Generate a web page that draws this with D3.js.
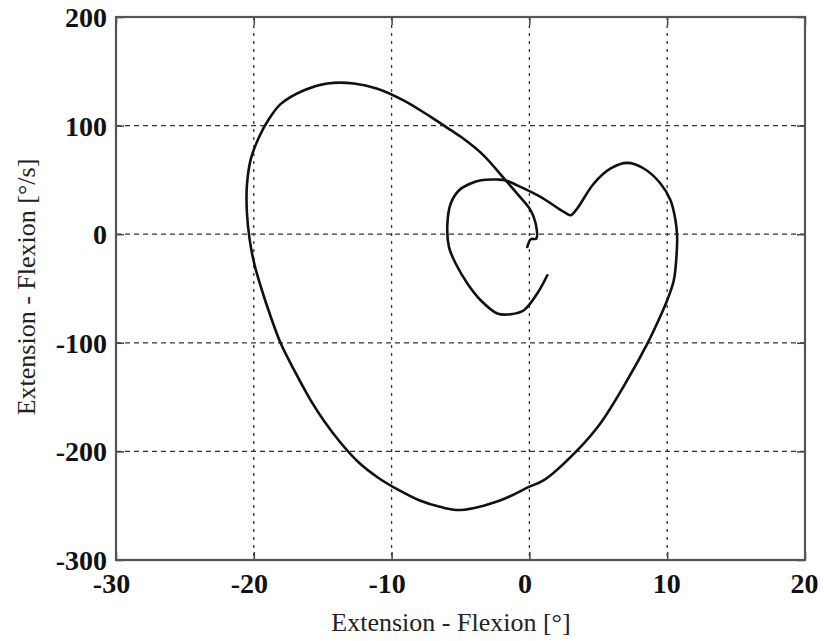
<!DOCTYPE html>
<html><head><meta charset="utf-8">
<script src="https://cdn.jsdelivr.net/npm/d3@7"></script>
<style>body{margin:0;background:#fff}</style>
</head><body>
<svg id="c" width="824" height="641"></svg>
<script>
const xTicks = [-30, -20, -10, 0, 10, 20];
const yTicks = [-300, -200, -100, 0, 100, 200];
const xLabel = "Extension - Flexion [°]";
const yLabel = "Extension - Flexion [°/s]";
// trajectory: angle (deg) and angular velocity (deg/s)
const angle = [1.3,0.57,-0.4,-1.36,-2.33,-3.54,-4.5,-5.35,-5.84,-5.95,-5.7,-5.1,-4.3,-3.5,-2.33,-1.7,-0.88,0.81,2.5,3.0,3.47,4.68,5.9,7.1,8.3,9.51,10.24,10.6,10.72,10.67,10.48,10.0,9.27,8.55,7.1,5.16,3.47,1.05,-0.04,-2.09,-4.99,-6.5,-8.0,-9.5,-11.0,-12.4,-13.7,-14.9,-15.87,-17.08,-18.04,-18.77,-19.45,-19.95,-20.3,-20.5,-20.5,-20.2,-19.6,-18.9,-18.04,-16.35,-14.66,-12.73,-11.03,-9.1,-7.16,-5.7,-4.9,-3.4,-1.73,-0.8,0.09,0.45,0.5,0.1,-0.15];
const velocity = [-37.8,-54.6,-70,-73.7,-73,-60.8,-45.4,-27,-11.7,9.8,28.5,40.5,46.5,49.7,50.3,49.5,45,34.4,20.5,17.5,23.7,46.7,60.5,65.7,60.5,46.7,31.3,12.9,-2.5,-20.9,-42.4,-60.8,-82,-101,-134.4,-174,-199,-226.5,-232.7,-245,-254,-251,-245,-235.5,-224,-210,-192,-172,-153,-125,-100.7,-76,-50,-28,-5,20,45,70,90,106,120,132.6,138.8,138.8,134,123,108,95.8,89,73.5,49.7,36,22,10,-4,-4.6,-11.7];

const svg = d3.select("#c");
const L = 116, R = 805, T = 17, B = 560;
const x = d3.scaleLinear().domain([-30, 20]).range([L, R]);
const y = d3.scaleLinear().domain([-300, 200]).range([B, T]);

// grid
const grid = svg.append("g").attr("stroke", "#333").attr("stroke-width", 1.3).attr("fill", "none");
xTicks.filter(t => t > -30 && t < 20).forEach(t => {
  grid.append("line").attr("x1", x(t)).attr("x2", x(t)).attr("y1", T).attr("y2", B)
    .attr("stroke-dasharray", "3,5");
});
yTicks.filter(t => t > -300 && t < 200).forEach(t => {
  grid.append("line").attr("x1", L).attr("x2", R).attr("y1", y(t)).attr("y2", y(t))
    .attr("stroke-dasharray", "5,4");
});

// axes via d3 (inward ticks)
const fontT = "Liberation Serif, Times New Roman, serif";
const gx = svg.append("g").attr("transform", `translate(0,${B})`)
  .call(d3.axisBottom(x).tickValues(xTicks).tickSize(-8).tickPadding(13).tickFormat(d3.format("d")));
const gy = svg.append("g").attr("transform", `translate(${L},0)`)
  .call(d3.axisLeft(y).tickValues(yTicks).tickSize(-8).tickPadding(9).tickFormat(d3.format("d")));
svg.append("g").attr("transform", `translate(0,${T})`)
  .call(d3.axisTop(x).tickValues(xTicks).tickSize(-8).tickFormat(""));
svg.append("g").attr("transform", `translate(${R},0)`)
  .call(d3.axisRight(y).tickValues(yTicks).tickSize(-8).tickFormat(""));
svg.selectAll(".domain").remove();
svg.selectAll(".tick line").attr("stroke", "#444").attr("stroke-width", 1.5);
[gx, gy].forEach(g => g.selectAll("text")
  .attr("font-family", fontT).attr("font-weight", "bold").attr("font-size", 28).attr("fill", "#111")
  .text(d => d < 0 ? "-" + Math.abs(d) : d));
gx.selectAll("text").attr("dx", d => d <= 0 ? -5 : -1).attr("dy", "0.71em");
gy.selectAll("text").attr("dy", "0.34em");

// box
svg.append("rect").attr("x", L).attr("y", T).attr("width", R - L).attr("height", B - T)
  .attr("fill", "none").attr("stroke", "#555").attr("stroke-width", 2.2);

// curve
const pts = angle.map((a, i) => [a, velocity[i]]);
svg.append("path").datum(pts)
  .attr("d", d3.line().x(d => x(d[0])).y(d => y(d[1])).curve(d3.curveCatmullRom.alpha(0.5)))
  .attr("fill", "none").attr("stroke", "#111").attr("stroke-width", 2.6)
  .attr("stroke-linejoin", "round").attr("stroke-linecap", "round");

// labels
svg.append("text").attr("x", 451).attr("y", 631).attr("text-anchor", "middle")
  .attr("font-family", fontT).attr("font-size", 26).attr("fill", "#222").text(xLabel);
svg.append("text").attr("transform", "translate(35,287) rotate(-90)").attr("text-anchor", "middle")
  .attr("font-family", fontT).attr("font-size", 26).attr("fill", "#222").text(yLabel);
</script>
</body></html>
